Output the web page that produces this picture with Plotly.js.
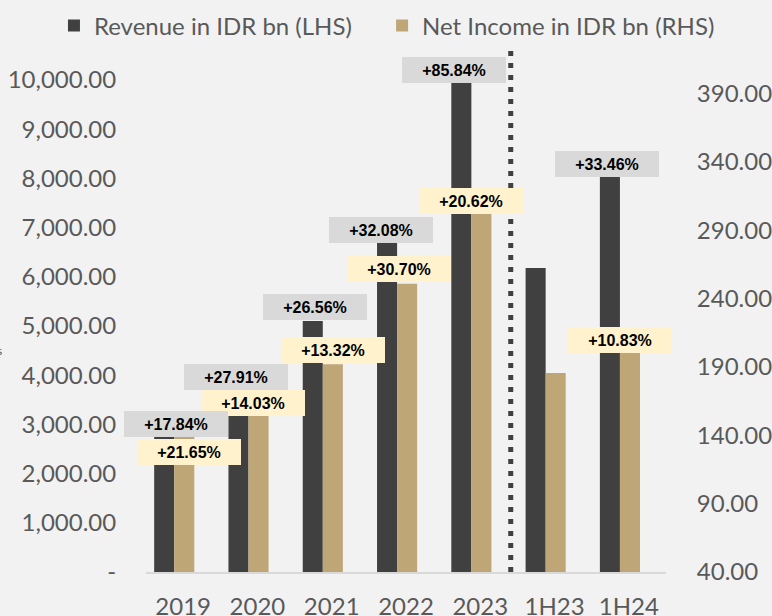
<!DOCTYPE html>
<html>
<head>
<meta charset="utf-8">
<script src="https://cdn.plot.ly/plotly-3.0.1.min.js"></script>
<style>
html,body{margin:0;padding:0;background:#f2f2f2;}
#chart{width:772px;height:616px;}
</style>
</head>
<body>
<div id="chart"></div>
<script>
// ---- data ----
const categories = ['2019', '2020', '2021', '2022', '2023', '1H23', '1H24'];
const revenue = [3150, 4030, 5100, 6740, 12520, 6180, 8250];          // IDR bn (LHS)
const netIncome = [148.6, 169.4, 192.0, 250.9, 302.6, 185.7, 205.8];   // IDR bn (RHS)
const revenueGrowth = ['+17.84%', '+27.91%', '+26.56%', '+32.08%', '+85.84%', null, '+33.46%'];
const netIncomeGrowth = ['+21.65%', '+14.03%', '+13.32%', '+30.70%', '+20.62%', null, '+10.83%'];
const leftTickValues = [0, 1000, 2000, 3000, 4000, 5000, 6000, 7000, 8000, 9000, 10000];
const leftTickLabels = ['-', '1,000.00', '2,000.00', '3,000.00', '4,000.00', '5,000.00',
  '6,000.00', '7,000.00', '8,000.00', '9,000.00', '10,000.00'];
const rightTickValues = [40, 90, 140, 190, 240, 290, 340, 390];
const rightTickLabels = ['40.00', '90.00', '140.00', '190.00', '240.00', '290.00', '340.00', '390.00'];

// ---- layout helpers (pixel nudges of the growth call-outs, [xshift, yshift]) ----
const revLabelNudge = [[-7, -7], [-21, -3], [-17, 14], [-25, 10], [-26, 10], null, [-22, 2]];
const niLabelNudge = [[6, -28], [-4, -8], [1, 14], [-7, 15], [-9, 12], null, [-9, 5]];

const leftRange = [0, 10000];
const rightRange = [40, 400];
const FONT = 'Lato, "Open Sans", sans-serif';
const GREY_TXT = '#595959';

const traces = [
  {
    type: 'bar', name: 'Revenue in IDR bn (LHS)', x: categories, y: revenue,
    yaxis: 'y', marker: {color: '#404040'}, width: 0.27, offset: -0.39,
    hoverinfo: 'x+y', legend: 'legend'
  },
  {
    type: 'bar', name: 'Net Income in IDR bn (RHS)', x: categories, y: netIncome,
    yaxis: 'y2', marker: {color: '#bfa677'}, width: 0.27, offset: -0.12,
    hoverinfo: 'x+y', legend: 'legend2'
  }
];

const annotations = [];
const boxFont = {family: '"Liberation Sans", Arial, sans-serif', size: 16, color: '#000000'};
netIncomeGrowth.forEach((t, i) => {
  if (!t) return;
  annotations.push({
    x: i, xref: 'x', y: Math.min(netIncome[i], rightRange[1]), yref: 'y2',
    text: '<b>' + t + '</b>', showarrow: false, xanchor: 'center', yanchor: 'middle',
    xshift: niLabelNudge[i][0], yshift: niLabelNudge[i][1],
    bgcolor: '#fff2cc', width: 104, height: 26, borderpad: 0, borderwidth: 0, font: boxFont
  });
});
revenueGrowth.forEach((t, i) => {
  if (!t) return;
  annotations.push({
    x: i, xref: 'x', y: Math.min(revenue[i], leftRange[1]), yref: 'y',
    text: '<b>' + t + '</b>', showarrow: false, xanchor: 'center', yanchor: 'middle',
    xshift: revLabelNudge[i][0], yshift: revLabelNudge[i][1],
    bgcolor: '#d9d9d9', width: 104, height: 26, borderpad: 0, borderwidth: 0, font: boxFont
  });
});
// clipped fragment of a text at the far left edge
annotations.push({
  xref: 'paper', yref: 'paper', x: -0.273, y: 0.45, xanchor: 'right', yanchor: 'middle',
  text: 's', showarrow: false, font: {family: FONT, size: 12, color: GREY_TXT}
});

const legendStyle = {
  orientation: 'h', xanchor: 'left', y: 1.11, yanchor: 'middle',
  font: {family: FONT, size: 24, color: GREY_TXT}, bgcolor: 'rgba(0,0,0,0)',
  itemwidth: 30
};

const layout = {
  width: 772, height: 616,
  margin: {l: 146, r: 106, t: 80, b: 44, pad: 0, autoexpand: false},
  paper_bgcolor: '#f2f2f2', plot_bgcolor: '#f2f2f2',
  font: {family: FONT, color: GREY_TXT, size: 24},
  barmode: 'overlay',
  showlegend: true,
  legend: Object.assign({}, legendStyle, {x: -0.177}),
  legend2: Object.assign({}, legendStyle, {x: 0.454}),
  xaxis: {
    type: 'category', range: [-0.5, 6.5], showgrid: false, zeroline: false,
    showline: true, linecolor: '#d9d9d9', linewidth: 2,
    ticks: 'outside', ticklen: 12, tickcolor: 'rgba(0,0,0,0)',
    tickfont: {family: FONT, size: 24, color: GREY_TXT}, fixedrange: true
  },
  yaxis: {
    range: leftRange, showgrid: false, zeroline: false, showline: false,
    tickvals: leftTickValues, ticktext: leftTickLabels,
    ticks: 'outside', ticklen: 24, tickcolor: 'rgba(0,0,0,0)',
    tickfont: {family: FONT, size: 24, color: GREY_TXT}, fixedrange: true
  },
  yaxis2: {
    overlaying: 'y', side: 'right', range: rightRange, showgrid: false, zeroline: false,
    showline: false, tickvals: rightTickValues, ticktext: rightTickLabels,
    ticks: 'outside', ticklen: 25, tickcolor: 'rgba(0,0,0,0)',
    tickfont: {family: FONT, size: 24, color: GREY_TXT}, fixedrange: true
  },
  shapes: [{
    type: 'line', xref: 'x', yref: 'paper', x0: 4.41, x1: 4.41, y0: 0, y1: 1.063,
    line: {color: '#404040', width: 5, dash: '5px,7px'}, layer: 'above'
  }],
  annotations: annotations
};

Plotly.newPlot('chart', traces, layout, {displayModeBar: false, staticPlot: true});
</script>
</body>
</html>
